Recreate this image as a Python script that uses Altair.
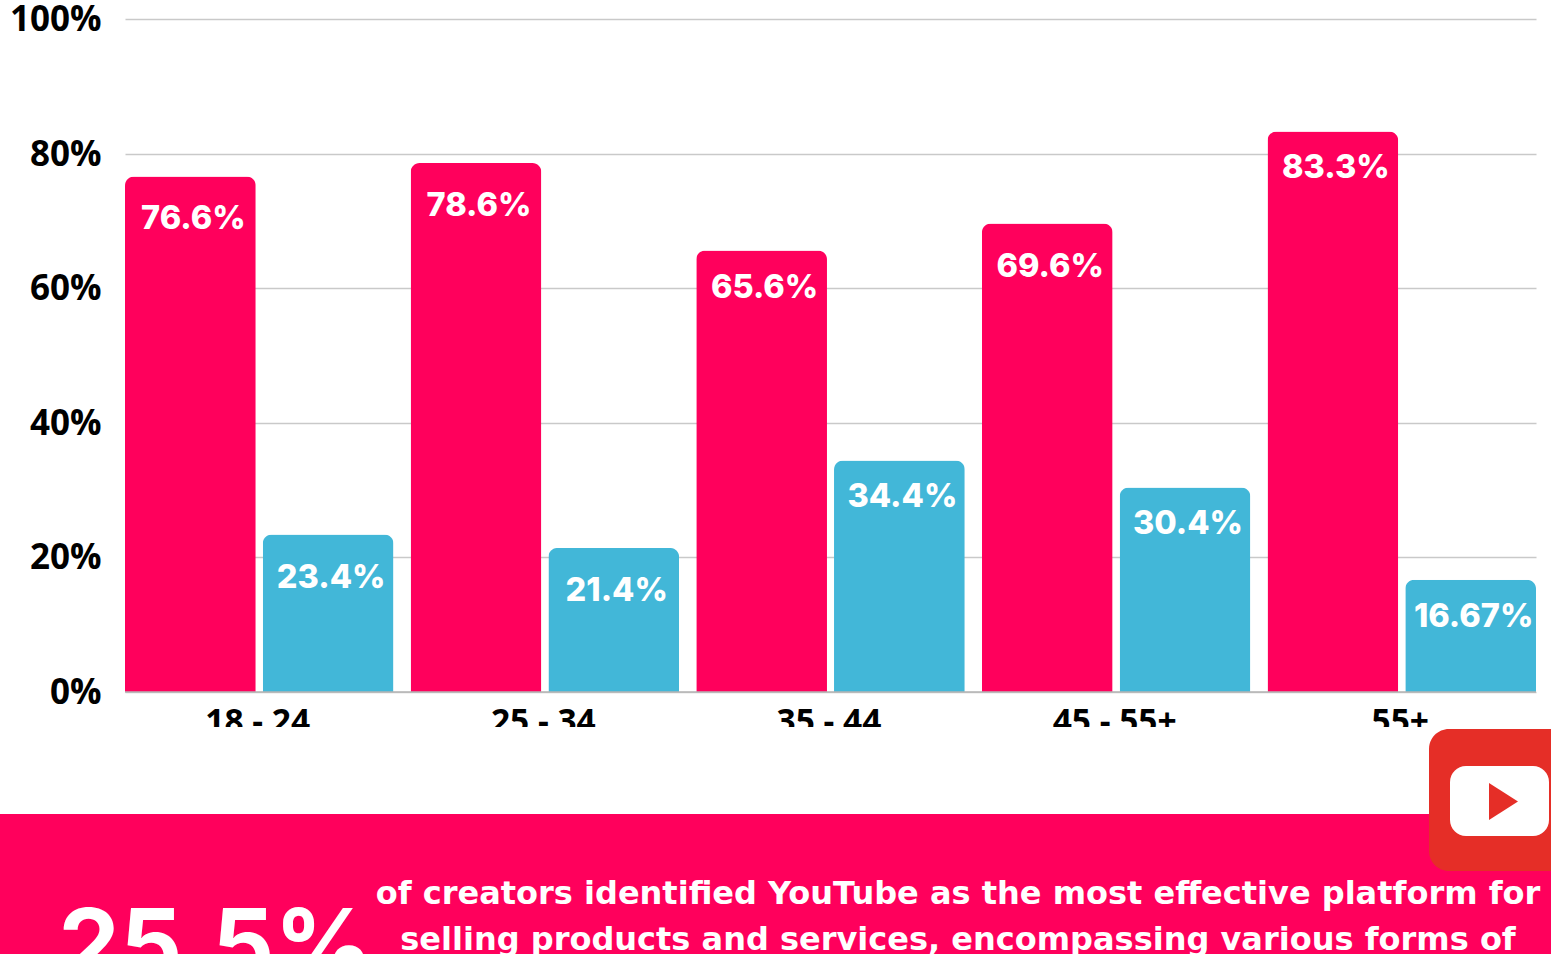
import altair as alt
import pandas as pd

age_groups = ["18 - 24", "25 - 34", "35 - 44", "45 - 55+", "55+"]
first_share = [76.6, 78.6, 65.6, 69.6, 83.3]
second_share = [23.4, 21.4, 34.4, 30.4, 16.67]
headline = "25.5%"
caption_lines = [
    "of creators identified YouTube as the most effective platform for",
    "selling products and services, encompassing various forms of",
]

PINK = "#FF005C"
BLUE = "#42B7D8"
RED = "#E52E27"
LABEL_FONT = "Inter"
CAPTION_FONT = "DejaVu Sans"
AXIS_FONT = "Open Sans"

# Plot area sits inside the page padding; overlay marks are placed relative to it.
LEFT, TOP = 125, 19
PLOT_W, PLOT_H = 1411, 673

rows = []
for group, a, b in zip(age_groups, first_share, second_share):
    rows.append({"age": group, "series": "first", "share": a, "label": f"{a}%"})
    rows.append({"age": group, "series": "second", "share": b, "label": f"{b}%"})
table = pd.DataFrame(rows)
one = pd.DataFrame({"k": [0]})

x = alt.X(
    "age:N",
    sort=age_groups,
    title=None,
    scale=alt.Scale(paddingInner=0.06, paddingOuter=0),
    axis=alt.Axis(
        labelAngle=0, ticks=False, domain=False, grid=False, labelPadding=30, labelOffset=-1.5,
        labelFont=AXIS_FONT, labelFontWeight="bold", labelFontSize=33.5,
        labelColor="#000000", labelBaseline="middle",
    ),
)
y = alt.Y(
    "share:Q",
    title=None,
    scale=alt.Scale(domain=[0, 100]),
    axis=alt.Axis(
        values=[0, 20, 40, 60, 80, 100], labelExpr="datum.value + '%'",
        ticks=False, domain=False, gridColor="#C9C9C9", gridWidth=1.5,
        labelPadding=24, labelOffset=0.5,
        labelFont=AXIS_FONT, labelFontWeight="bold", labelFontSize=35, labelColor="#000000",
    ),
)
x_offset = alt.XOffset("series:N", scale=alt.Scale(paddingInner=0.051, paddingOuter=0))
color = alt.Color(
    "series:N", legend=None,
    scale=alt.Scale(domain=["first", "second"], range=[PINK, BLUE]),
)

bars = alt.Chart(table).mark_bar(cornerRadiusTopLeft=9, cornerRadiusTopRight=9).encode(
    x=x, y=y, xOffset=x_offset, color=color
)

baseline = alt.Chart(one).mark_rule(color="#B5B5B5", strokeWidth=1.5).encode(
    x=alt.value(0), x2=alt.value(PLOT_W), y=alt.value(PLOT_H)
)


def value_labels(shares, drop):
    return (
        alt.Chart(table)
        .transform_filter(alt.FieldOneOfPredicate(field="share", oneOf=shares))
        .mark_text(
            font=LABEL_FONT, fontWeight=800, fontSize=32.5, color="#FFFFFF",
            baseline="middle", dy=drop, dx=3,
        )
        .encode(x=x, y=y, xOffset=x_offset, text="label:N")
    )


labels_near = value_labels([65.6, 83.3, 34.4, 30.4, 16.67], 37)
labels_far = value_labels([76.6, 78.6, 69.6, 23.4, 21.4], 43)


def block(x0, x1, y0, y1, fill, radius=0):
    return alt.Chart(one).mark_rect(color=fill, cornerRadius=radius).encode(
        x=alt.value(x0 - LEFT), x2=alt.value(x1 - LEFT),
        y=alt.value(y0 - TOP), y2=alt.value(y1 - TOP),
    )


def caption(text, cx, base, size, font, weight="bold"):
    return alt.Chart(one).mark_text(
        font=font, fontWeight=weight, fontSize=size, color="#FFFFFF",
        align="center", baseline="alphabetic",
    ).encode(x=alt.value(cx - LEFT), y=alt.value(base - TOP), text=alt.value(text))


# White strip trims the category labels; the banner and badge lie on top of it.
strip = block(0, 1551, 727, 814, "#FFFFFF")
banner = block(0, 1551, 814, 1000, PINK)
badge = block(1429, 1600, 729, 871, RED, 20)
screen = block(1450, 1549, 766, 836, "#FFFFFF", 16)
play = alt.Chart(one).mark_point(
    shape="M-1,-1.27L1,0L-1,1.27Z", filled=True, fill=RED, stroke=None, opacity=1, size=841
).encode(x=alt.value(1503.5 - LEFT), y=alt.value(801.5 - TOP))

chart = alt.layer(
    bars, baseline, labels_near, labels_far, strip, banner, badge, screen, play,
    caption(headline, 216, 979, 97.5, LABEL_FONT),
    caption(caption_lines[0], 958, 904, 32, CAPTION_FONT),
    caption(caption_lines[1], 958, 950, 32, CAPTION_FONT),
).properties(
    width=PLOT_W,
    height=PLOT_H,
    background="#FFFFFF",
    padding={"left": LEFT, "top": TOP, "right": 15, "bottom": 262},
    autosize=alt.AutoSizeParams(type="none"),
).configure_view(stroke=None)

chart.save("out.html", embed_options={"renderer": "svg", "actions": False})
